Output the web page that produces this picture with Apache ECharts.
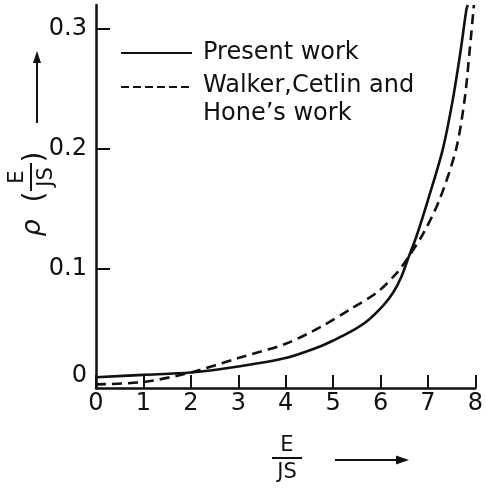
<!DOCTYPE html>
<html>
<head>
<meta charset="utf-8">
<script src="https://cdn.jsdelivr.net/npm/echarts@6/dist/echarts.min.js"></script>
<style>
  html, body { margin: 0; padding: 0; background: #fff; }
  #chart { width: 486px; height: 489px; }
</style>
</head>
<body>
<div id="chart"></div>
<script>
// E/JS values and rho(E/JS)
var presentWork = [
  [0, 0.009], [1, 0.011], [2, 0.013], [3, 0.018], [4, 0.025], [4.68, 0.034],
  [5.02, 0.040], [5.37, 0.047], [5.72, 0.056], [6.06, 0.069], [6.27, 0.080],
  [6.44, 0.093], [6.58, 0.108], [6.76, 0.127], [7.0, 0.157], [7.31, 0.199],
  [7.52, 0.240], [7.69, 0.282], [7.81, 0.316], [7.84, 0.320]
];
var walkerWork = [
  [0, 0.003], [1, 0.005], [2, 0.013], [3, 0.025], [4, 0.037], [4.74, 0.051],
  [5.37, 0.066], [5.93, 0.080], [6.34, 0.096], [6.58, 0.109], [6.9, 0.129],
  [7.24, 0.157], [7.59, 0.199], [7.77, 0.240], [7.88, 0.282], [7.96, 0.316],
  [7.97, 0.320]
];
var xLabels = [0, 1, 2, 3, 4, 5, 6, 7, 8];
var yLabels = [0, 0.1, 0.2, 0.3];
var yTicks = [0.1, 0.2, 0.3];
var seriesNames = ['Present work', 'Walker,Cetlin and', 'Hone\u2019s work'];

var FONT = 'DejaVu Sans';
var INK = '#111';

var chart = echarts.init(document.getElementById('chart'));

// rotated y axis title: rho (E / JS) with arrow
function yTitle() {
  var rot = Math.PI / 2;
  var t = function(txt, x, y, size, extra) {
    return {
      type: 'text', x: x, y: y, rotation: rot,
      style: Object.assign({
        text: txt, fontFamily: FONT, fontSize: size, fill: INK,
        align: 'center', verticalAlign: 'middle'
      }, extra || {})
    };
  };
  return [
    t('\u03c1', 33, 228, 27, { fontStyle: 'italic' }),
    t('(', 36, 197, 28),
    t('E', 18, 177, 21),
    { type: 'line', shape: { x1: 31, y1: 163, x2: 31, y2: 191 },
      style: { stroke: INK, lineWidth: 2 } },
    t('JS', 47, 177, 21),
    t(')', 36, 157, 28),
    { type: 'line', shape: { x1: 37, y1: 123, x2: 37, y2: 58 },
      style: { stroke: INK, lineWidth: 2 } },
    { type: 'polygon', shape: { points: [[37, 51], [33, 63], [41, 63]] },
      style: { fill: INK } }
  ];
}

function xTitle() {
  return [
    { type: 'text', x: 287, y: 446,
      style: { text: 'E', fontFamily: FONT, fontSize: 21, fill: INK,
        align: 'center', verticalAlign: 'middle' } },
    { type: 'line', shape: { x1: 272, y1: 458, x2: 302, y2: 458 },
      style: { stroke: INK, lineWidth: 2 } },
    { type: 'text', x: 287, y: 473,
      style: { text: 'JS', fontFamily: FONT, fontSize: 21, fill: INK,
        align: 'center', verticalAlign: 'middle' } },
    { type: 'line', shape: { x1: 335, y1: 460, x2: 399, y2: 460 },
      style: { stroke: INK, lineWidth: 2 } },
    { type: 'polygon', shape: { points: [[409, 460], [396, 455.5], [396, 464.5]] },
      style: { fill: INK } }
  ];
}

function legend() {
  var txt = function(s, y) {
    return { type: 'text', x: 203, y: y,
      style: { text: s, fontFamily: FONT, fontSize: 24, fill: INK,
        align: 'left', verticalAlign: 'middle' } };
  };
  return [
    { type: 'line', shape: { x1: 121, y1: 53, x2: 192, y2: 53 },
      style: { stroke: INK, lineWidth: 2.2 } },
    txt(seriesNames[0], 53),
    { type: 'line', shape: { x1: 121, y1: 87, x2: 192, y2: 87 },
      style: { stroke: INK, lineWidth: 2.2, lineDash: [8, 4] } },
    txt(seriesNames[1], 86),
    txt(seriesNames[2], 114)
  ];
}

var option = {
  backgroundColor: '#fff',
  animation: false,
  grid: { left: 96, right: 6, top: 5, bottom: 101, containLabel: false },
  xAxis: {
    type: 'value', min: 0, max: 8, interval: 1,
    axisLine: { lineStyle: { color: INK, width: 2.5 } },
    axisTick: { inside: true, length: 13, lineStyle: { color: INK, width: 2 } },
    axisLabel: {
      customValues: xLabels, color: INK, fontFamily: FONT, fontSize: 24, margin: 4
    },
    splitLine: { show: false }
  },
  yAxis: {
    type: 'value', min: 0, max: 0.32,
    axisLine: { show: true, lineStyle: { color: INK, width: 2.5 } },
    axisTick: { show: true, inside: true, length: 14, customValues: yTicks,
      lineStyle: { color: INK, width: 2 } },
    axisLabel: {
      customValues: yLabels, color: INK, fontFamily: FONT, fontSize: 24, margin: 9,
      formatter: function(v) { return v === 0 ? '{z|0}' : v.toFixed(1); },
      rich: { z: { fontFamily: FONT, fontSize: 24, color: INK, padding: [0, 0, 24, 0] } }
    },
    splitLine: { show: false }
  },
  series: [
    {
      name: seriesNames[0], type: 'line', data: presentWork,
      symbol: 'none', smooth: 0.3,
      lineStyle: { color: INK, width: 2.6 }
    },
    {
      name: seriesNames[1], type: 'line', data: walkerWork,
      symbol: 'none', smooth: 0.3,
      lineStyle: { color: INK, width: 2.6, type: [10, 6] }
    }
  ],
  graphic: yTitle().concat(xTitle()).concat(legend())
};

chart.setOption(option);
</script>
</body>
</html>
